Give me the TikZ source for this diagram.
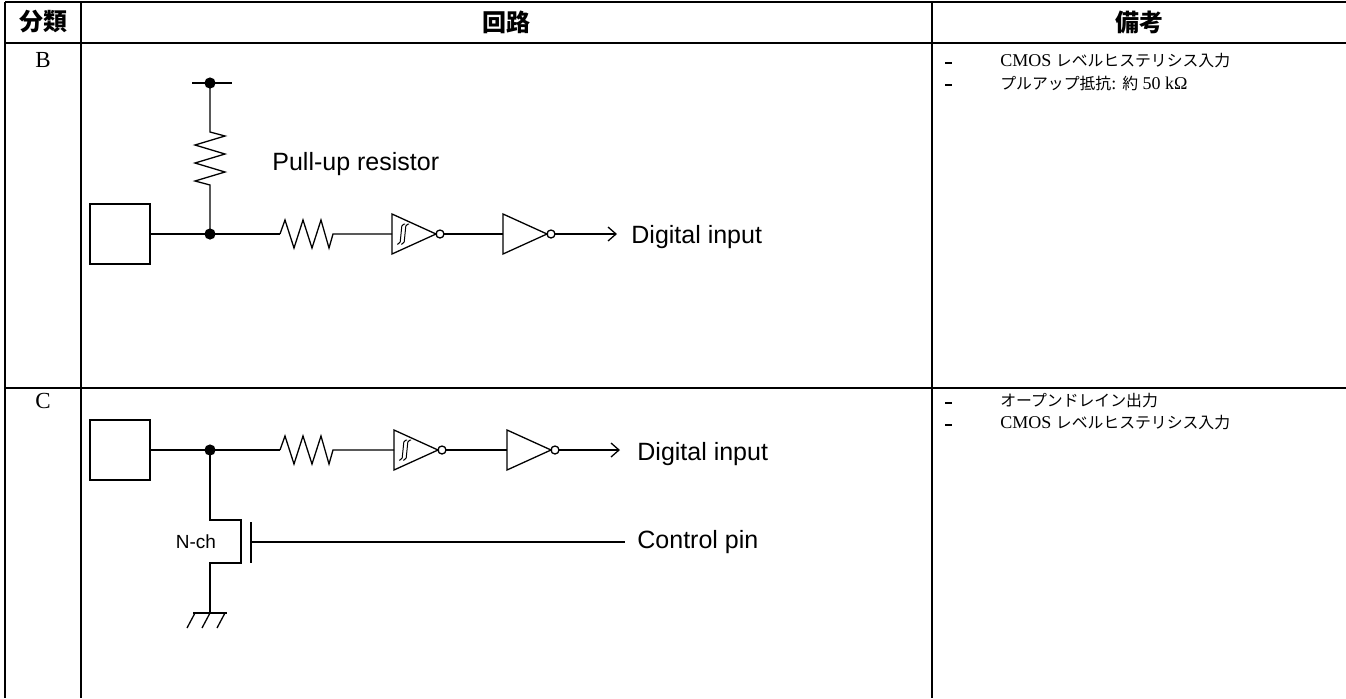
\documentclass[tikz,border=0pt]{standalone}
\usepackage{fontspec}
\setmainfont{Liberation Serif}
\newfontfamily\cjk{Noto Sans CJK JP}
\newfontfamily\cjknote[Scale=0.88]{Noto Sans CJK JP}
\newfontfamily\arial{Liberation Sans}
\usetikzlibrary{arrows.meta}

% inverter: #1 name, #2 left middle point
\newcommand{\Inv}[2]{%
  \coordinate (#1-in) at (#2);
  \draw[wire] (#1-in) ++(0,-20) -- ++(44,20) -- ++(-44,20) -- cycle;
  \draw[wire] (#1-in) ++(48,0) circle[radius=2pt];
  \path (#1-in) ++(52,0) coordinate (#1-out);
}
% hysteresis mark inside an inverter
\newcommand{\Hyst}[1]{%
  \draw[hyst] (#1-in) ++(5,10) -- ++(3,0) -- ++(2,-20) -- ++(3,0);
  \draw[hyst] (#1-in) ++(9,10) -- ++(3,0) -- ++(2,-20) -- ++(3,0);
}
% horizontal resistor from #1 to #2
\newcommand{\HRes}[2]{%
  \draw[wire] (#1) -- ++(5,-14) -- ++(9,28) -- ++(9,-28) -- ++(9,28) -- ++(9,-28) -- ++(8,28) -- ++(4,-14) -- (#2);
}

\begin{document}
\begin{tikzpicture}[x=0.5pt,y=-0.5pt,
  wire/.style={line width=0.65pt},
  hyst/.style={line width=0.5pt,rounded corners=1pt},
  frame/.style={line width=1.3pt},
  pad/.style={draw,line width=0.65pt,minimum size=30pt,inner sep=0pt},
  junction/.style={circle,fill,inner sep=0pt,minimum size=5.6pt},
  sig/.style={wire,-{Straight Barb[length=4pt,width=7pt]}},
  lbl/.style={font=\arial\fontsize{12.5}{15}\selectfont,anchor=west,inner sep=0pt},
  hdr/.style={font=\cjk\bfseries\fontsize{12}{14}\selectfont,inner sep=0pt},
  cat/.style={font=\fontsize{11.5}{13}\selectfont,inner sep=0pt},
  rem/.style={font=\fontsize{9}{11}\selectfont,anchor=west,inner sep=0pt},
  bullet/.style={fill,minimum width=3.5pt,minimum height=1pt,inner sep=0pt}]
\useasboundingbox (0,0) rectangle (1346,698);

% table
\draw[frame] (5,2) -- (1346,2);
\draw[frame] (5,43) -- (1346,43);
\draw[frame] (5,388) -- (1346,388);
\draw[frame] (5,2) -- (5,698);
\draw[frame] (81,2) -- (81,698);
\draw[frame] (932,2) -- (932,698);

\node[hdr] (hCat) at (43,22) {分類};
\node[hdr] (hCirc) at (506,22) {回路};
\node[hdr] (hNote) at (1139,22) {備考};
\node[cat] (catB) at (43,60) {B};
\node[cat] (catC) at (43,401) {C};

\node[bullet] (dashB1) at (948,63) {};
\node[rem] (noteB1) at (1000,61) {CMOS {\cjknote レベルヒステリシス入力}};
\node[bullet] (dashB2) at (948,85) {};
\node[rem] (noteB2) at (1000,83) {{\cjknote プルアップ抵抗}: {\cjknote 約} 50 kΩ};
\node[bullet] (dashC1) at (948,403) {};
\node[rem] (noteC1) at (1000,401) {{\cjknote オープンドレイン出力}};
\node[bullet] (dashC2) at (948,425) {};
\node[rem] (noteC2) at (1000,423) {CMOS {\cjknote レベルヒステリシス入力}};

% B: pull-up input
\node[pad] (padB) at (120,234) {};
\coordinate (jB) at (210,234);
\coordinate (vddB) at (210,83);
\draw[wire] (padB.east) -- (jB);
\draw[wire] (vddB) ++(-18,0) -- ++(40,0);
\draw[wire] (vddB) -- ++(0,49) -- ++(15,4) -- ++(-30,9) -- ++(30,9) -- ++(-30,9) -- ++(30,9) -- ++(-30,9) -- ++(15,4) -- (jB);
\node[junction] at (vddB) {};
\node[junction] at (jB) {};
\node[lbl] (pullB) at (272,164) {Pull-up resistor};
\coordinate (rB) at (280,234);
\Inv{schB}{392,234}
\Hyst{schB}
\Inv{invB}{503,234}
\draw[wire] (jB) -- (rB);
\HRes{rB}{schB-in}
\draw[wire] (schB-out) -- (invB-in);
\coordinate (outB) at (617,234);
\draw[sig] (invB-out) -- (outB);
\node[lbl] (digB) at (631,237) {Digital input};

% C: open drain
\node[pad] (padC) at (120,450) {};
\coordinate (jC) at (210,450);
\draw[wire] (padC.east) -- (jC);
\node[junction] at (jC) {};
\coordinate (rC) at (280,450);
\Inv{schC}{394,450}
\Hyst{schC}
\Inv{invC}{507,450}
\draw[wire] (jC) -- (rC);
\HRes{rC}{schC-in}
\draw[wire] (schC-out) -- (invC-in);
\coordinate (outC) at (620,450);
\draw[sig] (invC-out) -- (outC);
\node[lbl] (digC) at (637,454) {Digital input};

\coordinate (gndC) at (210,613);
\draw[wire] (jC) -- (210,520) -- (241,520) -- (241,563) -- (210,563) -- (gndC);
\draw[wire] (251,522) -- (251,563);
\coordinate (ctrlC) at (625,542);
\draw[wire] (251,542) -- (ctrlC);
\node[lbl] (ctrlTxt) at (637,542) {Control pin};
\node[font=\arial\fontsize{9.5}{11}\selectfont,inner sep=0pt] (nch) at (196,542) {N-ch};
\draw[wire] (gndC) ++(-17,0) -- ++(34,0);
\foreach \dx in {-15,0,15}
  \draw[wire] (gndC) ++(\dx,0) -- ++(-8,15);
\end{tikzpicture}
\end{document}
